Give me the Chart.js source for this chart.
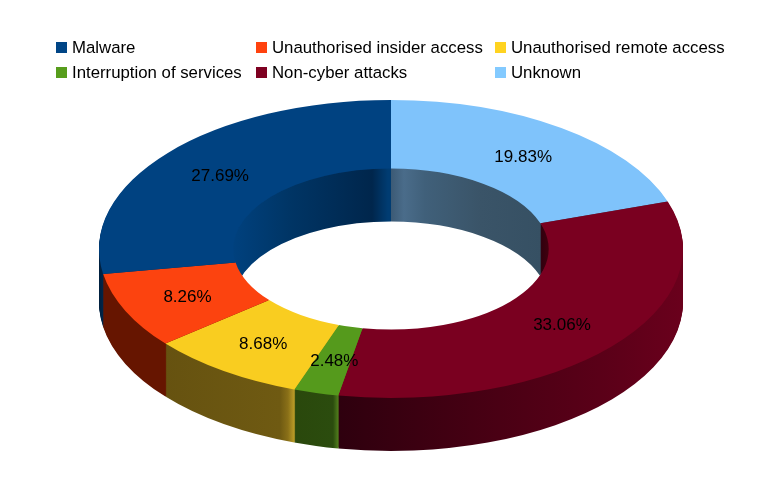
<!DOCTYPE html>
<html>
<head>
<meta charset="utf-8">
<style>
  html, body { margin: 0; padding: 0; background: #fff; }
  canvas { display: block; }
</style>
</head>
<body>
<canvas id="breachChart" width="757" height="482"></canvas>
<script src="https://cdn.jsdelivr.net/npm/chart.js@4/dist/chart.umd.min.js"></script>
<script>
// legend order; the slices run anticlockwise from 12 o'clock, so they get reversed below
const categories = ['Malware', 'Unauthorised insider access', 'Unauthorised remote access',
                    'Interruption of services', 'Non-cyber attacks', 'Unknown'];
const percents = [27.69, 8.26, 8.68, 2.48, 33.06, 19.83];
const colors = ['#004586', '#ff420e', '#ffd320', '#579d1c', '#7e0021', '#83caff'];
// the lit top faces come out slightly duller than the legend swatches
const topColors = ['#004281', '#fc430f', '#f9cd20', '#559a1c', '#7a0020', '#7fc3fb'];

// side wall shading, [page x, colour]
const outerWalls = [
    [[100, '#00203f'], [104, '#00284e']],
    [[103, '#661500'], [165, '#661500']],
    [[165, '#665210'], [280, '#6f5a12'], [288, '#8a7018'], [294, '#b89a26']],
    [[295, '#2a480c'], [333, '#2b4c0e'], [338, '#4f7c1c']],
    [[338, '#2e000e'], [500, '#4a0014'], [600, '#5a0018'], [683, '#6a001c']],
    [[391, '#3a5468'], [683, '#3a5468']]
];
const innerWalls = [
    [[233, '#00417e'], [290, '#003565'], [372, '#00264c'], [388, '#003c72']],
    [[233, '#661500'], [243, '#661500']],
    [[243, '#665210'], [300, '#665210']],
    [[300, '#2a480c'], [340, '#2a480c']],
    [[540, '#2e000e'], [548, '#40000f']],
    [[391, '#3c5a75'], [404, '#4a6c8a'], [425, '#40607a'], [480, '#3a5468'], [541, '#365063']]
];

const centerX = 391, centerY = 249, radiusX = 292, radiusY = 149, depth = 53;

function sliceTransform(chart, arc) {
    const s = { x: radiusX / arc.outerRadius, y: radiusY / arc.outerRadius };
    s.apply = (ctx, dy) => {
        ctx.translate(centerX, centerY + dy);
        ctx.scale(s.x, s.y);
        ctx.translate(-arc.x, -arc.y);
    };
    s.localX = px => arc.x + (px - centerX) / s.x;
    return s;
}

function wallFill(ctx, t, stops) {
    const x0 = stops[0][0], x1 = stops[stops.length - 1][0];
    const g = ctx.createLinearGradient(t.localX(x0), 0, t.localX(x1), 0);
    stops.forEach(st => g.addColorStop((st[0] - x0) / (x1 - x0), st[1]));
    return g;
}

function drawWalls(chart, arcs, t, walls) {
    const ctx = chart.ctx;
    const fills = arcs.map((a, i) => wallFill(ctx, t, walls[arcs.length - 1 - i]));
    for (let d = depth; d >= 1; d--) {
        arcs.forEach((arc, i) => {
            const orig = arc.options;
            const opts = Object.create(orig);
            opts.backgroundColor = fills[i];
            opts.borderWidth = 0;
            arc.options = opts;
            ctx.save();
            t.apply(ctx, d);
            arc.draw(ctx);
            ctx.restore();
            arc.options = orig;
        });
    }
}

const ring3d = {
    id: 'ring3d',
    beforeDatasetsDraw(chart) {
        const ctx = chart.ctx;
        const arcs = chart.getDatasetMeta(0).data;
        const t = sliceTransform(chart, arcs[0]);
        drawWalls(chart, arcs, t, outerWalls);
        // the part seen through the hole gets its own shading
        ctx.save();
        t.apply(ctx, 0);
        ctx.beginPath();
        ctx.arc(arcs[0].x, arcs[0].y, arcs[0].innerRadius, 0, Math.PI * 2);
        ctx.restore();
        ctx.save();
        ctx.clip();
        ctx.fillStyle = '#fff';
        ctx.fillRect(0, 0, chart.width, chart.height);
        drawWalls(chart, arcs, t, innerWalls);
        ctx.restore();
        // top face is the normal doughnut draw, squashed
        ctx.save();
        t.apply(ctx, 0);
    },
    afterDatasetsDraw(chart) {
        const ctx = chart.ctx;
        ctx.restore();
        const arcs = chart.getDatasetMeta(0).data;
        const t = sliceTransform(chart, arcs[0]);
        ctx.save();
        ctx.font = '17px "Liberation Sans"';
        ctx.fillStyle = '#000';
        ctx.textAlign = 'center';
        ctx.textBaseline = 'middle';
        arcs.forEach((arc, i) => {
            const p = arc.getCenterPoint();
            const x = centerX + (p.x - arc.x) * t.x;
            const y = centerY + (p.y - arc.y) * t.y;
            ctx.fillText(chart.data.datasets[0].data[i].toFixed(2) + '%', x + 1, y + 1);
        });
        ctx.restore();
    }
};

const legendColumns = [56, 256, 495];
const legendRows = [42, 67];

const gridLegend = {
    id: 'gridLegend',
    afterDraw(chart) {
        const ctx = chart.ctx;
        ctx.save();
        ctx.font = '16.8px "Liberation Sans"';
        ctx.textBaseline = 'alphabetic';
        categories.forEach((name, i) => {
            const x = legendColumns[i % 3];
            const y = legendRows[Math.floor(i / 3)];
            ctx.fillStyle = colors[i];
            ctx.fillRect(x, y, 11, 11);
            ctx.fillStyle = '#000';
            ctx.fillText(name, x + 16, y + 11);
        });
        ctx.restore();
    }
};

new Chart(document.getElementById('breachChart'), {
    type: 'doughnut',
    data: {
        labels: categories.slice().reverse(),
        datasets: [{
            data: percents.slice().reverse(),
            backgroundColor: topColors.slice().reverse(),
            borderWidth: 0
        }]
    },
    options: {
        responsive: false,
        animation: false,
        cutout: '54%',
        layout: { padding: 0 },
        plugins: {
            legend: { display: false },
            tooltip: { enabled: false }
        }
    },
    plugins: [ring3d, gridLegend]
});
</script>
</body>
</html>
